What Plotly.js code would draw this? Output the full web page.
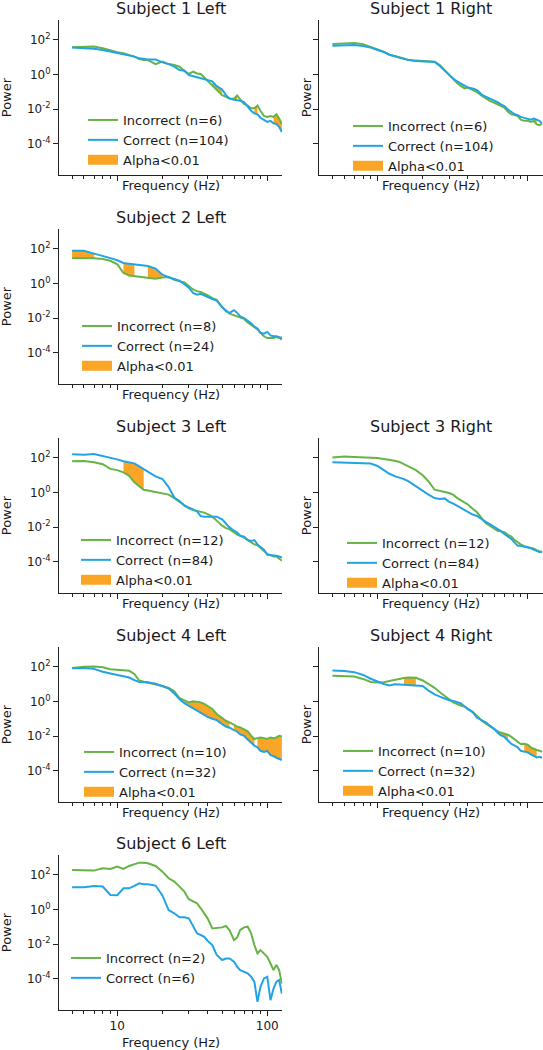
<!DOCTYPE html>
<html>
<head>
<meta charset="utf-8">
<script src="https://cdn.plot.ly/plotly-3.0.1.min.js"></script>
<style>html,body{margin:0;padding:0;background:#fff}#chart{width:543px;height:1050px}</style>
</head>
<body>
<div id="chart"></div>
<script>
// ---------- DATA (power spectra, values are log10(power)) ----------
const freqHz = [5,6,7,8,9,10,11,12,13,14,15,16,18,20,22,24,26,28,30,32,34,36,38,40,43,46,50,53,56,60,63,66,70,74,78,82,86,90,95,100,105,110,115,120,125];

const s1LeftIncorrect = [1.56,1.58,1.60,1.50,1.36,1.27,1.21,1.11,1.02,0.88,0.82,0.82, 0.59,0.73,0.59,0.54,0.44,0.21,0.02,0.15,0.05,0.02,-0.18,-0.43, -0.65,-0.91,-1.20,-1.29,-1.39,-1.40,-1.22,-1.45,-1.70,-1.80,-1.95,-1.95,-1.80,-2.10,-2.40,-2.45,-2.40,-2.45,-2.30,-2.55,-2.87];
const s1LeftCorrect   = [1.54,1.52,1.48,1.40,1.31,1.21,1.17,1.11,1.02,0.92,0.88,0.86, 0.86,0.69,0.59,0.44,0.25,0.21,-0.04,-0.10,-0.20,-0.24,-0.29,-0.33, -0.40,-0.68,-0.87,-1.20,-1.39,-1.47,-1.48,-1.52,-1.60,-1.87,-2.10,-2.25,-2.30,-2.50,-2.62,-2.74,-2.68,-2.82,-2.86,-3.03,-3.32];
const s1LeftSig = [[43,50],[60,63],[82,86],[110,125]];

const s1RightIncorrect = [1.75,1.77,1.81,1.73,1.60,1.44,1.29,1.13,1.06,0.98,0.90,0.84, 0.79,0.77,0.73,0.73,0.54,0.25,0.02,-0.29,-0.52,-0.68,-0.81,-0.76, -0.91,-1.03,-1.26,-1.41,-1.53,-1.64,-1.72,-1.83,-1.91,-2.16,-2.30,-2.35,-2.41,-2.61,-2.68,-2.68,-2.74,-2.68,-2.88,-2.93,-2.84];
const s1RightCorrect   = [1.65,1.67,1.69,1.63,1.54,1.40,1.29,1.13,1.04,0.96,0.88,0.82, 0.77,0.75,0.75,0.71,0.48,0.21,-0.02,-0.25,-0.41,-0.52,-0.62,-0.76, -0.81,-0.91,-1.20,-1.30,-1.41,-1.49,-1.60,-1.72,-1.83,-2.03,-2.16,-2.30,-2.35,-2.45,-2.51,-2.55,-2.61,-2.55,-2.64,-2.68,-2.84];
const s1RightSig = [[36,38],[60,66],[86,90],[110,115]];

const s2LeftIncorrect = [1.46,1.46,1.44,1.40,1.30,1.10,0.60,0.45,0.42,0.40,0.38,0.35, 0.27,0.33,0.37,0.20,0.12,0.05,-0.15,-0.35,-0.45,-0.50,-0.60,-0.68, -0.85,-0.95,-1.40,-1.55,-1.75,-1.85,-1.90,-1.95,-2.05,-2.25,-2.40,-2.55,-2.65,-2.85,-3.05,-3.15,-3.15,-3.15,-3.10,-3.15,-3.10];
const s2LeftCorrect   = [1.87,1.87,1.71,1.55,1.45,1.33,1.17,1.13,1.10,1.08,1.04,1.00, 0.85,0.50,0.35,0.25,0.15,-0.05,-0.25,-0.55,-0.65,-0.60,-0.70,-0.80, -0.90,-1.00,-1.35,-1.60,-1.70,-1.55,-1.70,-1.90,-2.00,-2.15,-2.30,-2.50,-2.60,-2.85,-2.90,-2.80,-3.00,-3.05,-3.05,-3.10,-3.25];
const s2LeftSig = [[5,7],[11,13],[16,20]];

const s3LeftIncorrect = [1.79,1.80,1.73,1.62,1.35,1.28,1.15,0.95,0.58,0.33,0.15,0.10, 0.00,-0.05,-0.13,-0.33,-0.55,-0.77,-0.92,-1.02,-1.06,-1.12,-1.17,-1.25, -1.40,-1.63,-1.92,-2.06,-2.12,-2.31,-2.44,-2.50,-2.60,-2.75,-2.90,-3.00,-3.05,-3.20,-3.40,-3.55,-3.62,-3.70,-3.70,-3.80,-3.94];
const s3LeftCorrect   = [2.19,2.17,2.21,2.10,1.98,1.90,1.79,1.72,1.67,1.50,1.35,1.17, 0.92,0.77,0.30,-0.30,-0.50,-0.77,-0.87,-0.98,-1.10,-1.37,-1.40,-1.40, -1.36,-1.40,-1.56,-1.83,-2.02,-2.21,-2.31,-2.50,-2.55,-2.75,-2.80,-2.75,-3.00,-3.15,-3.30,-3.60,-3.62,-3.60,-3.65,-3.70,-3.75];
const s3LeftSig = [[11,15]];

const s3RightIncorrect = [2.00,2.06,2.04,2.03,2.02,1.98,1.92,1.88,1.82,1.75,1.62,1.48, 1.28,0.98,0.60,0.15,0.06,0.02,-0.04,-0.15,-0.33,-0.45,-0.60,-0.70, -0.95,-1.15,-1.55,-1.80,-1.92,-2.10,-2.21,-2.25,-2.30,-2.45,-2.55,-2.75,-2.90,-3.00,-3.10,-3.15,-3.18,-3.25,-3.33,-3.38,-3.46];
const s3RightCorrect   = [1.73,1.71,1.70,1.68,1.66,1.52,1.27,1.07,0.93,0.85,0.76,0.65, 0.35,0.08,-0.15,-0.33,-0.38,-0.35,-0.55,-0.65,-0.78,-0.88,-0.98,-1.12, -1.28,-1.36,-1.60,-1.72,-1.83,-1.98,-2.10,-2.22,-2.40,-2.55,-2.69,-2.90,-3.08,-3.08,-3.12,-3.17,-3.22,-3.30,-3.37,-3.45,-3.40];
const s3RightSig = [[56,60],[115,120]];

const s4LeftIncorrect = [1.92,1.99,2.00,1.96,1.85,1.81,1.77,1.76,1.58,1.20,1.13,1.08, 1.00,0.88,0.77,0.58,0.19,0.04,-0.06,0.00,-0.02,-0.06,-0.15,-0.25, -0.44,-0.73,-0.96,-1.12,-1.21,-1.35,-1.46,-1.50,-1.60,-1.73,-1.98,-2.17,-2.12,-2.08,-2.12,-2.17,-2.08,-2.12,-2.08,-1.98,-2.02];
const s4LeftCorrect   = [1.90,1.92,1.87,1.70,1.60,1.50,1.42,1.37,1.22,1.12,1.10,1.10, 1.02,0.88,0.74,0.45,0.12,-0.10,-0.25,-0.40,-0.55,-0.68,-0.80,-0.90, -1.00,-1.08,-1.31,-1.45,-1.52,-1.65,-1.75,-1.90,-1.98,-2.20,-2.40,-2.55,-2.65,-2.85,-2.92,-2.86,-3.10,-3.15,-3.25,-3.33,-3.38];
const s4LeftSig = [[28,56],[60,82],[86,125]];

const s4RightIncorrect = [1.48,1.47,1.43,1.29,1.12,1.09,1.10,1.17,1.25,1.31,1.35,1.37, 1.36,1.20,0.98,0.78,0.52,0.29,0.12,-0.06,-0.18,-0.26,-0.30,-0.45, -0.60,-0.85,-1.15,-1.30,-1.45,-1.60,-1.72,-1.80,-1.85,-1.92,-2.05,-2.20,-2.35,-2.46,-2.44,-2.50,-2.65,-2.75,-2.80,-2.85,-2.90];
const s4RightCorrect   = [1.77,1.75,1.68,1.52,1.30,1.12,1.00,0.92,0.98,0.97,0.95,0.94, 0.90,0.88,0.60,0.40,0.27,0.14,0.06,0.02,-0.04,-0.12,-0.30,-0.45, -0.62,-0.95,-1.12,-1.22,-1.40,-1.60,-1.80,-1.95,-2.05,-2.25,-2.45,-2.55,-2.65,-2.85,-2.90,-2.94,-3.05,-3.15,-3.23,-3.20,-3.25];
const s4RightSig = [[15,18],[34,38],[63,74],[95,115]];

const s6LeftIncorrect = [2.27,2.27,2.23,2.37,2.32,2.46,2.33,2.50,2.62,2.69,2.69,2.65, 2.50,2.17,1.79,1.60,1.31,1.02,0.58,0.44,0.35,0.06,-0.23,-0.52, -1.10,-1.08,-1.04,-0.96,-1.19,-1.77,-1.62,-1.19,-1.04,-1.00,-1.38,-2.06,-2.54,-2.35,-2.54,-2.73,-3.12,-3.50,-3.21,-3.50,-4.27];
const s6LeftCorrect   = [1.27,1.27,1.35,1.31,0.83,0.81,1.21,1.21,1.35,1.50,1.44,1.44, 1.37,0.80,-0.04,-0.23,-0.46,-0.46,-0.52,-1.00,-1.38,-1.48,-1.58,-1.81, -2.06,-2.63,-2.92,-2.83,-2.83,-3.02,-3.31,-3.50,-3.60,-3.69,-3.88,-4.17,-5.33,-4.46,-3.98,-3.88,-5.23,-4.56,-4.17,-4.08,-4.85];
const s6LeftSig = [];

const panelTitles = ['Subject 1 Left','Subject 1 Right','Subject 2 Left','Subject 3 Left','Subject 3 Right','Subject 4 Left','Subject 4 Right','Subject 6 Left'];
const nIncorrect = [6,6,8,12,12,10,10,2];
const nCorrect   = [104,104,24,84,84,32,32,6];
const yTickVals = [1e-4,1e-2,1,1e2];
const yTickText = ['10<sup>-4</sup>','10<sup>-2</sup>','10<sup>0</sup>','10<sup>2</sup>'];
const xTickVals = [10,100];
const xTickText = ['10','100'];
const xMinorVals = [5,6,7,8,9,20,30,40,50,60,70,80,90];

// ---------- STYLE / LAYOUT ----------
const W = 543, H = 1050;
const GREEN = '#66b446', BLUE = '#22a4e4', ORANGE = '#fba526';
const INK = '#1a1a1a', SPINE = '#222222';
const FONT = 'DejaVu Sans';
const colLeft = [59, 319.3];
const plotW = 223.3;
const rowTop = [20, 229, 438, 647, 855];
const plotH = 154.5;

const panels = [
  {inc:s1LeftIncorrect,  cor:s1LeftCorrect,  sig:s1LeftSig,  row:0, col:0, leg:[83,105]},
  {inc:s1RightIncorrect, cor:s1RightCorrect, sig:s1RightSig, row:0, col:1, leg:[348,111]},
  {inc:s2LeftIncorrect,  cor:s2LeftCorrect,  sig:s2LeftSig,  row:1, col:0, leg:[77,311]},
  {inc:s3LeftIncorrect,  cor:s3LeftCorrect,  sig:s3LeftSig,  row:2, col:0, leg:[76,525]},
  {inc:s3RightIncorrect, cor:s3RightCorrect, sig:s3RightSig, row:2, col:1, leg:[342,528]},
  {inc:s4LeftIncorrect,  cor:s4LeftCorrect,  sig:s4LeftSig,  row:3, col:0, leg:[79,737]},
  {inc:s4RightIncorrect, cor:s4RightCorrect, sig:s4RightSig, row:3, col:1, leg:[338,736]},
  {inc:s6LeftIncorrect,  cor:s6LeftCorrect,  sig:s6LeftSig,  row:4, col:0, leg:[66,943]}
];

const toPower = arr => arr.map(v => Math.pow(10, v));
const px = p => p / W;
const py = p => 1 - p / H;

const traces = [];
const layout = {
  width: W, height: H, autosize: false,
  margin: {l:0, r:0, t:0, b:0, pad:0},
  paper_bgcolor: '#ffffff', plot_bgcolor: '#ffffff',
  font: {family: FONT, size: 12, color: INK},
  showlegend: true,
  annotations: []
};

panels.forEach((p, i) => {
  const s = i === 0 ? '' : String(i + 1);
  const xa = 'x' + s, ya = 'y' + s, lg = 'legend' + s;
  const incP = toPower(p.inc), corP = toPower(p.cor);

  // significance fills between the two curves
  p.sig.forEach(([a, b]) => {
    const idx = freqHz.map((f, k) => k).filter(k => freqHz[k] >= a && freqHz[k] <= b);
    const xs = idx.map(k => freqHz[k]).concat(idx.slice().reverse().map(k => freqHz[k]));
    const ys = idx.map(k => incP[k]).concat(idx.slice().reverse().map(k => corP[k]));
    traces.push({x: xs, y: ys, xaxis: xa, yaxis: ya, type: 'scatter', mode: 'lines',
      fill: 'toself', fillcolor: ORANGE, line: {width: 0, color: ORANGE},
      showlegend: false, hoverinfo: 'skip', legend: lg});
  });
  traces.push({x: freqHz, y: incP, xaxis: xa, yaxis: ya, type: 'scatter', mode: 'lines',
    name: 'Incorrect (n=' + nIncorrect[i] + ')', line: {color: GREEN, width: 2}, legend: lg});
  traces.push({x: freqHz, y: corP, xaxis: xa, yaxis: ya, type: 'scatter', mode: 'lines',
    name: 'Correct (n=' + nCorrect[i] + ')', line: {color: BLUE, width: 2}, legend: lg});
  if (p.sig.length) {
    traces.push({x: [null], y: [null], xaxis: xa, yaxis: ya, type: 'scatter', mode: 'lines',
      name: 'Alpha<0.01', line: {color: ORANGE, width: 11}, legend: lg, hoverinfo: 'skip'});
  }

  const x0 = colLeft[p.col], y0 = rowTop[p.row];
  const isBottom = p.row === 4;
  layout['xaxis' + s] = {
    domain: [px(x0), px(x0 + plotW)], anchor: ya, type: 'log',
    range: [Math.log10(4.09), Math.log10(125.9)],
    showline: true, linecolor: SPINE, linewidth: 1, mirror: false,
    showgrid: false, zeroline: false,
    ticks: 'outside', ticklen: 5, tickwidth: 1, tickcolor: SPINE,
    tickmode: 'array', tickvals: xTickVals, ticktext: xTickText,
    showticklabels: isBottom, tickfont: {family: FONT, size: 12, color: INK},
    minor: {ticks: 'outside', ticklen: 3, tickwidth: 1, tickcolor: SPINE, tickmode: 'array', tickvals: xMinorVals, showgrid: false}
  };
  layout['yaxis' + s] = {
    domain: [py(y0 + plotH), py(y0)], anchor: xa, type: 'log',
    range: [-5.77, 3.13],
    showline: true, linecolor: SPINE, linewidth: 1,
    showgrid: false, zeroline: false,
    ticks: 'outside', ticklen: 5, tickwidth: 1, tickcolor: SPINE,
    tickmode: 'array', tickvals: yTickVals, ticktext: yTickText,
    showticklabels: p.col === 0, tickfont: {family: FONT, size: 12, color: INK}
  };
  layout[lg] = {
    x: px(p.leg[0]), y: py(p.leg[1]), xanchor: 'left', yanchor: 'top',
    bgcolor: 'rgba(0,0,0,0)', borderwidth: 0, tracegroupgap: 0,
    font: {family: FONT, size: 13, color: INK}
  };

  const cx = x0 + plotW / 2;
  layout.annotations.push({text: panelTitles[i], xref: 'paper', yref: 'paper',
    x: px(cx), y: py(y0 - 12), xanchor: 'center', yanchor: 'middle', showarrow: false,
    font: {family: FONT, size: 16, color: INK}});
  layout.annotations.push({text: 'Power', xref: 'paper', yref: 'paper',
    x: px(p.col === 0 ? 6 : 306), y: py(y0 + plotH / 2), xanchor: 'center', yanchor: 'middle',
    textangle: -90, showarrow: false, font: {family: FONT, size: 13, color: INK}});
  layout.annotations.push({text: 'Frequency (Hz)', xref: 'paper', yref: 'paper',
    x: px(cx), y: py(isBottom ? 1042 : y0 + plotH + 11), xanchor: 'center', yanchor: 'middle',
    showarrow: false, font: {family: FONT, size: 13, color: INK}});
});

Plotly.newPlot('chart', traces, layout, {staticPlot: true, displayModeBar: false});
</script>
</body>
</html>
